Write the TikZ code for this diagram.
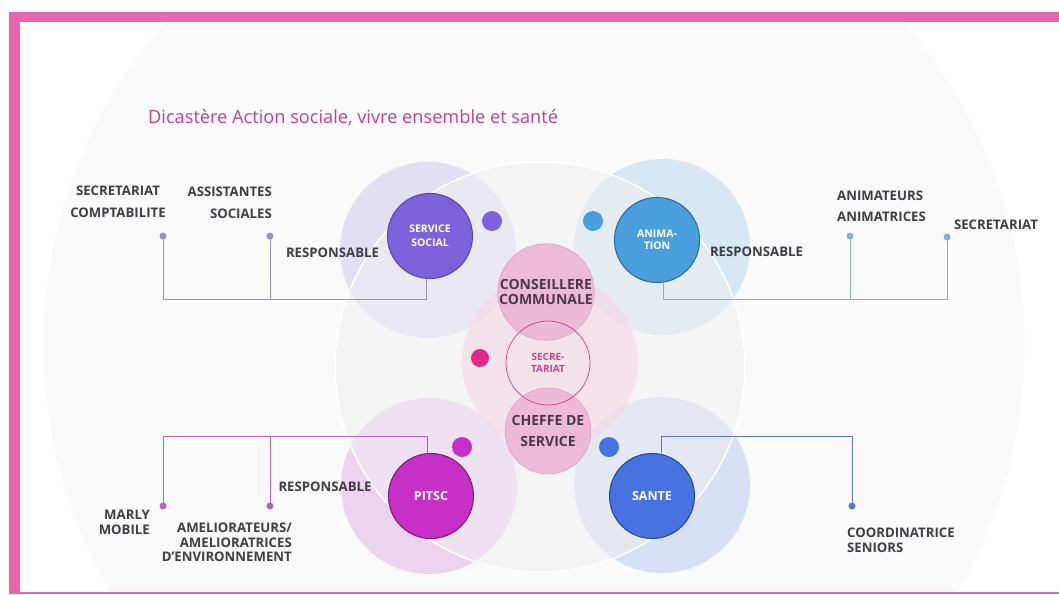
\documentclass[tikz,border=0pt]{standalone}
\usepackage{fontspec}
\setmainfont{Open Sans}
\definecolor{pinkframe}{HTML}{E866AE}
\definecolor{bigc}{HTML}{FAFAFA}
\definecolor{lav}{HTML}{E3DFF3}
\definecolor{lblue}{HTML}{D7E8F3}
\definecolor{lpit}{HTML}{EDD3EE}
\definecolor{lsan}{HTML}{D8E0F6}
\definecolor{medc}{HTML}{F0F0F2}
\definecolor{pinkbig}{HTML}{F4D6E4}
\definecolor{pinkc}{HTML}{EDB7D5}
\definecolor{pinkcb}{HTML}{DFA2C5}
\definecolor{secline}{HTML}{D2378A}
\definecolor{sectext}{HTML}{D0408C}
\definecolor{ssc}{HTML}{7D63DB}
\definecolor{ssb}{HTML}{5B47A6}
\definecolor{anic}{HTML}{4AA0DC}
\definecolor{anib}{HTML}{2F6D9A}
\definecolor{pitc}{HTML}{C630C6}
\definecolor{pitb}{HTML}{7B2180}
\definecolor{sanc}{HTML}{4673E0}
\definecolor{sanb}{HTML}{2A4A96}
\definecolor{secdot}{HTML}{E2288A}
\definecolor{sslin}{HTML}{9A8ED0}
\definecolor{anilin}{HTML}{7FB3D3}
\definecolor{pitlin}{HTML}{B463C0}
\definecolor{sanlin}{HTML}{5A7BC6}
\definecolor{labc}{HTML}{3E3E44}
\definecolor{ctrc}{HTML}{4A3947}
\definecolor{titlec}{HTML}{C4408F}
\tikzset{
  lab/.style={text=labc, font=\bfseries\fontsize{13.2}{22}\selectfont, inner sep=0},
  labt/.style={text=labc, font=\bfseries\fontsize{13.2}{15}\selectfont, inner sep=0},
  solidc/.style={circle, inner sep=0, minimum size=85pt, line width=1.1pt, text=white, align=center},
  pinkcirc/.style={circle, inner sep=0, minimum size=86pt, fill=pinkc, draw=pinkcb, line width=0.6pt, fill opacity=0.92, text opacity=1, text=ctrc, align=center},
  bigdot/.style={circle, inner sep=0, minimum size=20pt},
  smalldot/.style={circle, inner sep=0, minimum size=7pt},
  conn/.style={line width=1pt}
}
\begin{document}
\begin{tikzpicture}[x=1pt,y=-1pt]
\useasboundingbox (0,0) rectangle (1059,594);
\fill[white] (0,0) rectangle (1059,594);
% background circles
\begin{scope}
  \clip (20,22) rectangle (1059,592);
  \fill[bigc] (534,345) circle[radius=491];
  \draw[white, line width=1pt] (534,345) circle[radius=491];
  \fill[lav] (428,250) circle[radius=88];
  \fill[lblue] (662,247) circle[radius=88];
  \fill[lpit] (429,486) circle[radius=88];
  \fill[lsan] (662,485) circle[radius=88];
  \fill[medc, fill opacity=0.55] (540,367) circle[radius=205];
  \draw[white, line width=1.5pt] (540,367) circle[radius=205];
  \fill[pinkbig, fill opacity=0.55] (550,362) circle[radius=88];
\end{scope}
% frame
\fill[pinkframe] (9,12) rectangle (1059,22);
\fill[pinkframe] (9,12) rectangle (20,594);
\fill[pinkframe] (20,591.5) rectangle (1059,593.5);
% title
\node[anchor=base west, text=titlec, font=\fontsize{18.2}{20}\selectfont, inner sep=0] (title) at (148,123) {Dicastère Action sociale, vivre ensemble et santé};
% centre circles
\node[pinkcirc, font=\bfseries\fontsize{14}{15}\selectfont] (cons) at (546,292) {CONSEILLERE\\COMMUNALE};
\node[pinkcirc, font=\bfseries\fontsize{14}{21}\selectfont] (chef) at (548,431) {CHEFFE DE\\SERVICE};
\node[circle, inner sep=0, minimum size=84pt, draw=secline, line width=0.7pt, text=sectext, align=center, font=\bfseries\fontsize{10}{12.5}\selectfont] (secr) at (548,363) {SECRE-\\TARIAT};
% main solid circles
\node[solidc, fill=ssc, draw=ssb, font=\bfseries\fontsize{10.5}{14}\selectfont] (ss) at (430,236) {SERVICE\\SOCIAL};
\node[solidc, fill=anic, draw=anib, font=\bfseries\fontsize{10.5}{12.5}\selectfont] (ani) at (657,240) {ANIMA-\\TION};
\node[solidc, fill=pitc, draw=pitb, font=\bfseries\fontsize{12.5}{14}\selectfont] (pit) at (431,496) {PITSC};
\node[solidc, fill=sanc, draw=sanb, font=\bfseries\fontsize{12.5}{14}\selectfont] (san) at (652,496) {SANTE};
% big dots
\node[bigdot, fill=ssc] (bd1) at (492,221) {};
\node[bigdot, fill=anic] (bd2) at (593,221) {};
\node[bigdot, fill=secdot, minimum size=18pt] (bd3) at (480,358) {};
\node[bigdot, fill=pitc] (bd4) at (462,447) {};
\node[bigdot, fill=sanc] (bd5) at (609,447) {};
% small end dots
\node[smalldot, fill=sslin] (d1) at (163,236) {};
\node[smalldot, fill=sslin] (d2) at (270,236) {};
\node[smalldot, fill=anilin] (d3) at (850,236) {};
\node[smalldot, fill=anilin] (d4) at (947,237) {};
\node[smalldot, fill=pitlin] (d5) at (163,506) {};
\node[smalldot, fill=pitlin] (d6) at (270,506) {};
\node[smalldot, fill=sanlin] (d7) at (852,506) {};
% connectors
\coordinate (sj) at (426,299);
\draw[conn, sslin] (d1.center) |- (sj) -- (sj |- ss.south);
\draw[conn, sslin] (d2.center) -- (d2.center |- sj);
\coordinate (aj) at (663,299);
\draw[conn, anilin] (aj |- ani.south) -- (aj) -| (d4.center);
\draw[conn, anilin] (d3.center) -- (d3.center |- aj);
\coordinate (pj) at (427,436);
\draw[conn, pitlin] (d5.center) |- (pj) -- (pj |- pit.north);
\draw[conn, pitlin] (d6.center) -- (d6.center |- pj);
\coordinate (snj) at (661,436);
\draw[conn, sanlin] (snj |- san.north) -- (snj) -| (d7.center);
% labels
\node[lab, align=center] (l1) at (118,202) {SECRETARIAT\\COMPTABILITE};
\node[lab, align=right, anchor=east] (l2) at (272,203) {ASSISTANTES\\SOCIALES};
\node[lab] (l3) at (332.5,253) {RESPONSABLE};
\node[lab] (l4) at (756.5,252) {RESPONSABLE};
\node[lab, align=left, anchor=west, font=\bfseries\fontsize{13.2}{21}\selectfont] (l5) at (837,206.5) {ANIMATEURS\\ANIMATRICES};
\node[lab] (l6) at (996,225) {SECRETARIAT};
\node[lab] (l7) at (325,487) {RESPONSABLE};
\node[labt, align=right, anchor=east] (l8) at (150,522.5) {MARLY\\MOBILE};
\node[labt, align=right, anchor=east, font=\bfseries\fontsize{13.2}{14.5}\selectfont] (l9) at (292,542.5) {AMELIORATEURS/\\AMELIORATRICES\\D’ENVIRONNEMENT};
\node[labt, align=left, anchor=west] (l10) at (847,540.5) {COORDINATRICE\\SENIORS};
\end{tikzpicture}
\end{document}
